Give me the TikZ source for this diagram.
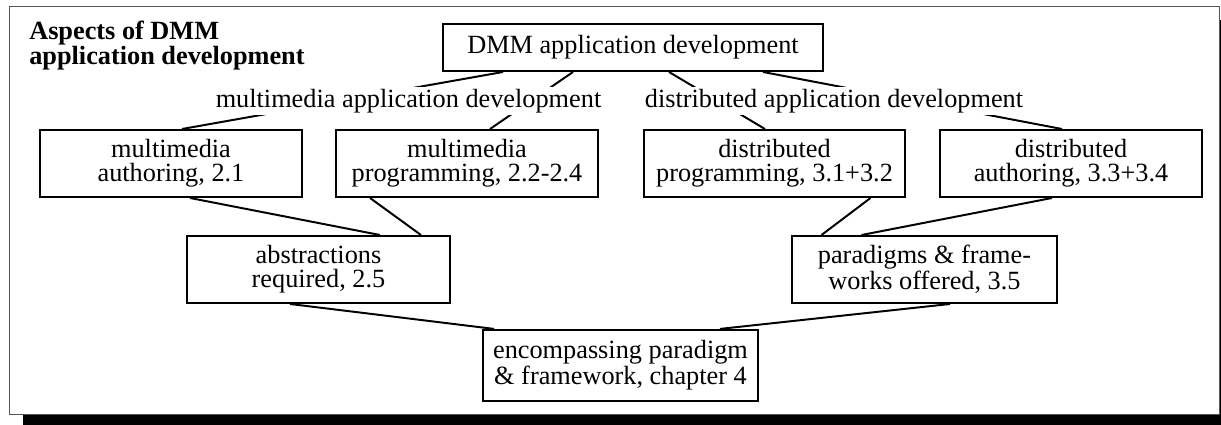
\documentclass[tikz,border=0pt]{standalone}
\usepackage{fontspec}
\setmainfont{Liberation Serif}
\usepackage{tikz}
\usetikzlibrary{positioning}
\definecolor{framegray}{RGB}{85,85,85}
\tikzset{
	topicbox/.style={draw, line width=1.4pt, fill=white, align=center, inner sep=2pt, minimum height=1.675cm, font=\fontsize{18.7}{17}\selectfont},
	branchlabel/.style={fill=white, inner sep=1.5pt, font=\fontsize{18.7}{17}\selectfont},
	link/.style={line width=1.4pt}
}

\begin{document}
\begin{tikzpicture}
		\useasboundingbox (0,0) rectangle (30.525,10.625);
		\fill[black] (0.575,-0.075) rectangle (30.825,10.125);
		\draw[color=framegray,fill=white,line width=0.7pt] (0.225,0.275) rectangle (30.475,10.475);
		\node[anchor=north west,inner sep=0,align=left,font=\bfseries\fontsize{18.7}{16.6}\selectfont] (title) at (0.725,10.105) {Aspects of DMM\\application development};
		\node[topicbox,minimum width=9.5cm,minimum height=1.175cm] (dmm) at (15.825,9.4375) {DMM application development};
		\node[topicbox,minimum width=6.55cm] (mmauth) at (4.275,6.5375) {multimedia\\authoring, 2.1};
		\node[topicbox,minimum width=6.55cm] (mmprog) at (11.675,6.5375) {multimedia\\programming, 2.2-2.4};
		\node[topicbox,minimum width=6.525cm] (dprog) at (19.3625,6.5375) {distributed\\programming, 3.1+3.2};
		\node[topicbox,minimum width=6.55cm] (dauth) at (26.775,6.5375) {distributed\\authoring, 3.3+3.4};
		\node[topicbox,minimum width=6.575cm] (abstr) at (7.9625,3.8875) {abstractions\\required, 2.5};
		\node[topicbox,minimum width=6.625cm] (parad) at (23.1125,3.8875) {paradigms \& frame-\\works offered, 3.5};
		\node[topicbox,minimum width=6.875cm,minimum height=1.775cm] (encomp) at (15.5125,1.49) {encompassing paradigm\\\& framework, chapter 4};
		\draw[link] ([xshift=-3.25cm]dmm.south) -- ([xshift=0.275cm]mmauth.north);
		\draw[link] ([xshift=-1.5cm]dmm.south) -- ([xshift=0.575cm]mmprog.north);
		\draw[link] ([xshift=0.9cm]dmm.south) -- ([xshift=-0.2375cm]dprog.north);
		\draw[link] ([xshift=3.25cm]dmm.south) -- ([xshift=-0.225cm]dauth.north);
		\draw[link] ([xshift=0.475cm]mmauth.south) -- ([xshift=1.5375cm]abstr.north);
		\draw[link] ([xshift=-2.425cm]mmprog.south) -- ([xshift=2.5625cm]abstr.north);
		\draw[link] ([xshift=2.4cm]dprog.south) -- ([xshift=-2.575cm]parad.north);
		\draw[link] ([xshift=-0.475cm]dauth.south) -- ([xshift=-1.575cm]parad.north);
		\draw[link] ([xshift=-0.7125cm]abstr.south) -- ([xshift=-3.1625cm]encomp.north);
		\draw[link] ([xshift=0.6375cm]parad.south) -- ([xshift=2.4875cm]encomp.north);
		\node[branchlabel] (mmlabel) at (10.2125,8.095) {multimedia application development};
		\node[branchlabel] (dlabel) at (20.85,8.095) {distributed application development};
\end{tikzpicture}
\end{document}
